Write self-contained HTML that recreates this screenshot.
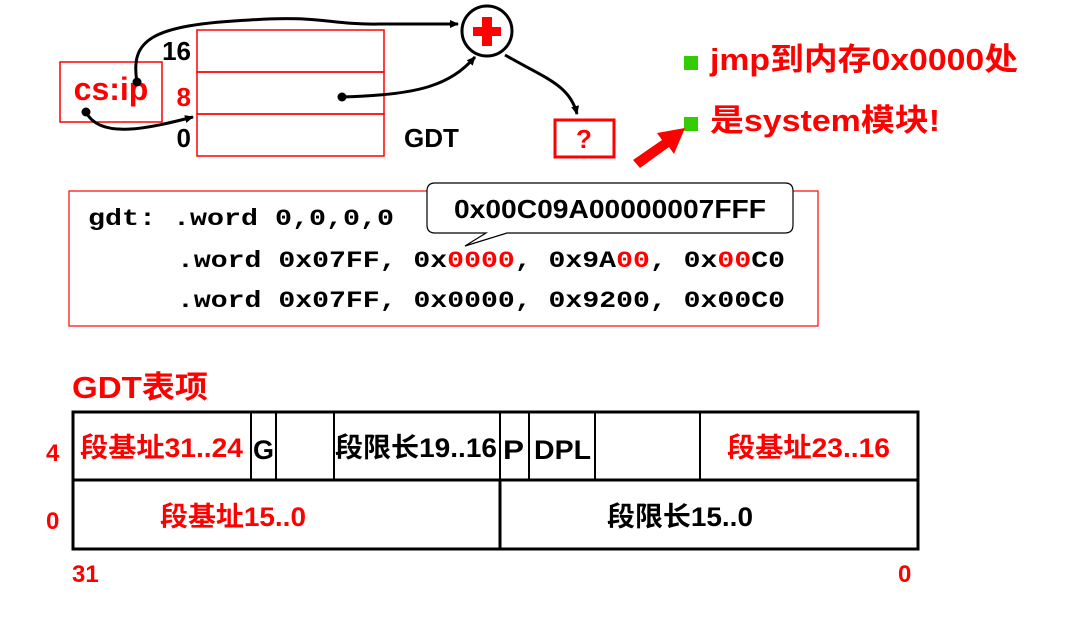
<!DOCTYPE html>
<html><head><meta charset="utf-8"><style>body{margin:0;background:#fff}svg{display:block}
text{font-family:"Liberation Sans","Noto Sans CJK SC",sans-serif;font-weight:bold}</style></head>
<body>
<svg width="1071" height="644" viewBox="0 0 1071 644" xmlns="http://www.w3.org/2000/svg">
<defs><marker id="a" markerWidth="10" markerHeight="10" refX="8" refY="5" orient="auto" markerUnits="userSpaceOnUse"><path d="M0,1 L9,5 L0,9 z" fill="#000"/></marker></defs>
<g fill="none" stroke="#f00" stroke-width="1.5">
<rect x="197" y="30" width="187" height="42"/>
<rect x="197" y="72" width="187" height="42"/>
<rect x="197" y="114" width="187" height="42"/>
<rect x="60" y="62" width="102" height="60"/>
</g>
<rect x="555" y="120" width="59" height="37" fill="none" stroke="#f00" stroke-width="3"/>
<text x="584" y="148" font-size="26" fill="#f00" text-anchor="middle">?</text>
<text x="191" y="60" font-size="26" fill="#000" text-anchor="end">16</text>
<text x="191" y="106" font-size="26" fill="#f00" text-anchor="end">8</text>
<text x="191" y="147" font-size="26" fill="#000" text-anchor="end">0</text>
<text x="404" y="147" font-size="26" fill="#000">GDT</text>
<text x="111" y="100" font-size="32" fill="#f00" text-anchor="middle">cs:ip</text>
<circle cx="487" cy="31" r="25" fill="#fff" stroke="#000" stroke-width="3"/>
<rect x="473" y="27" width="28" height="9" fill="#f00"/>
<rect x="482" y="17" width="10" height="29" fill="#f00"/>
<g fill="none" stroke="#000" stroke-width="3">
<path d="M137,82 C130,40 150,25 250,20 C320,15 330,25 380,24 L458,24" marker-end="url(#a)"/>
<path d="M86,112 C100,140 150,128 193,117" marker-end="url(#a)"/>
<path d="M342,97 C420,95 450,85 475,57" marker-end="url(#a)"/>
<path d="M505,55 C545,78 570,85 577,114" marker-end="url(#a)"/>
</g>
<circle cx="137" cy="82" r="4.5"/><circle cx="86" cy="112" r="4.5"/><circle cx="342" cy="97" r="4.5"/>
<rect x="684" y="56" width="14" height="14" fill="#33cc00"/>
<rect x="684" y="117" width="14" height="14" fill="#33cc00"/>
<text x="710" y="70" font-size="31" fill="#f00" textLength="308" lengthAdjust="spacingAndGlyphs">jmp到内存0x0000处</text>
<text x="710" y="131" font-size="31" fill="#f00" textLength="230" lengthAdjust="spacingAndGlyphs">是system模块!</text>
<path d="M633,160 L662,140 L657,133 L685,128 L674,154 L669,147 L640,168 z" fill="#f00"/>
<rect x="69" y="191" width="749" height="135" fill="#fff" stroke="#f00" stroke-width="1.2"/>
<g font-size="23" fill="#000">
<text x="88" y="225" textLength="306" lengthAdjust="spacingAndGlyphs" style="font-family:'Liberation Mono',monospace">gdt: .word 0,0,0,0</text>
<text x="177" y="267" textLength="608" lengthAdjust="spacingAndGlyphs" style="font-family:'Liberation Mono',monospace">.word 0x07FF, 0x<tspan fill="#f00">0000</tspan>, 0x9A<tspan fill="#f00">00</tspan>, 0x<tspan fill="#f00">00</tspan>C0</text>
<text x="177" y="307" textLength="608" lengthAdjust="spacingAndGlyphs" style="font-family:'Liberation Mono',monospace">.word 0x07FF, 0x0000, 0x9200, 0x00C0</text>
</g>
<path d="M435,183 L785,183 Q793,183 793,191 L793,225 Q793,233 785,233 L507,233 L465,246 L486,233 L435,233 Q427,233 427,225 L427,191 Q427,183 435,183 z" fill="#fff" stroke="#000" stroke-width="1.2"/>
<text x="454" y="218" font-size="26" fill="#000" textLength="312" lengthAdjust="spacingAndGlyphs">0x00C09A00000007FFF</text>
<text x="72" y="398" font-size="31" fill="#f00" textLength="136" lengthAdjust="spacingAndGlyphs">GDT表项</text>
<g stroke="#000" stroke-width="3" fill="none">
<rect x="73" y="412" width="845" height="137"/>
<line x1="73" y1="480" x2="918" y2="480"/>
<line x1="500" y1="480" x2="500" y2="549"/>
</g>
<g stroke="#000" stroke-width="2">
<line x1="251" y1="412" x2="251" y2="480"/><line x1="276" y1="412" x2="276" y2="480"/>
<line x1="334" y1="412" x2="334" y2="480"/><line x1="500" y1="412" x2="500" y2="480"/>
<line x1="529" y1="412" x2="529" y2="480"/><line x1="595" y1="412" x2="595" y2="480"/>
<line x1="700" y1="412" x2="700" y2="480"/>
</g>
<g font-size="27">
<text x="80" y="457" fill="#f00" textLength="163" lengthAdjust="spacingAndGlyphs">段基址31..24</text>
<text x="253" y="459" fill="#000" textLength="21" lengthAdjust="spacingAndGlyphs">G</text>
<text x="335" y="457" fill="#000" textLength="162" lengthAdjust="spacingAndGlyphs">段限长19..16</text>
<text x="503" y="459" fill="#000" textLength="21" lengthAdjust="spacingAndGlyphs">P</text>
<text x="534" y="459" fill="#000" textLength="57" lengthAdjust="spacingAndGlyphs">DPL</text>
<text x="727" y="457" fill="#f00" textLength="163" lengthAdjust="spacingAndGlyphs">段基址23..16</text>
<text x="160" y="526" fill="#f00" textLength="146" lengthAdjust="spacingAndGlyphs">段基址15..0</text>
<text x="607" y="526" fill="#000" textLength="146" lengthAdjust="spacingAndGlyphs">段限长15..0</text>
</g>
<g font-size="24" fill="#f00">
<text x="46" y="461">4</text>
<text x="46" y="529">0</text>
<text x="72" y="582">31</text>
<text x="898" y="582">0</text>
</g>
</svg>
</body></html>
